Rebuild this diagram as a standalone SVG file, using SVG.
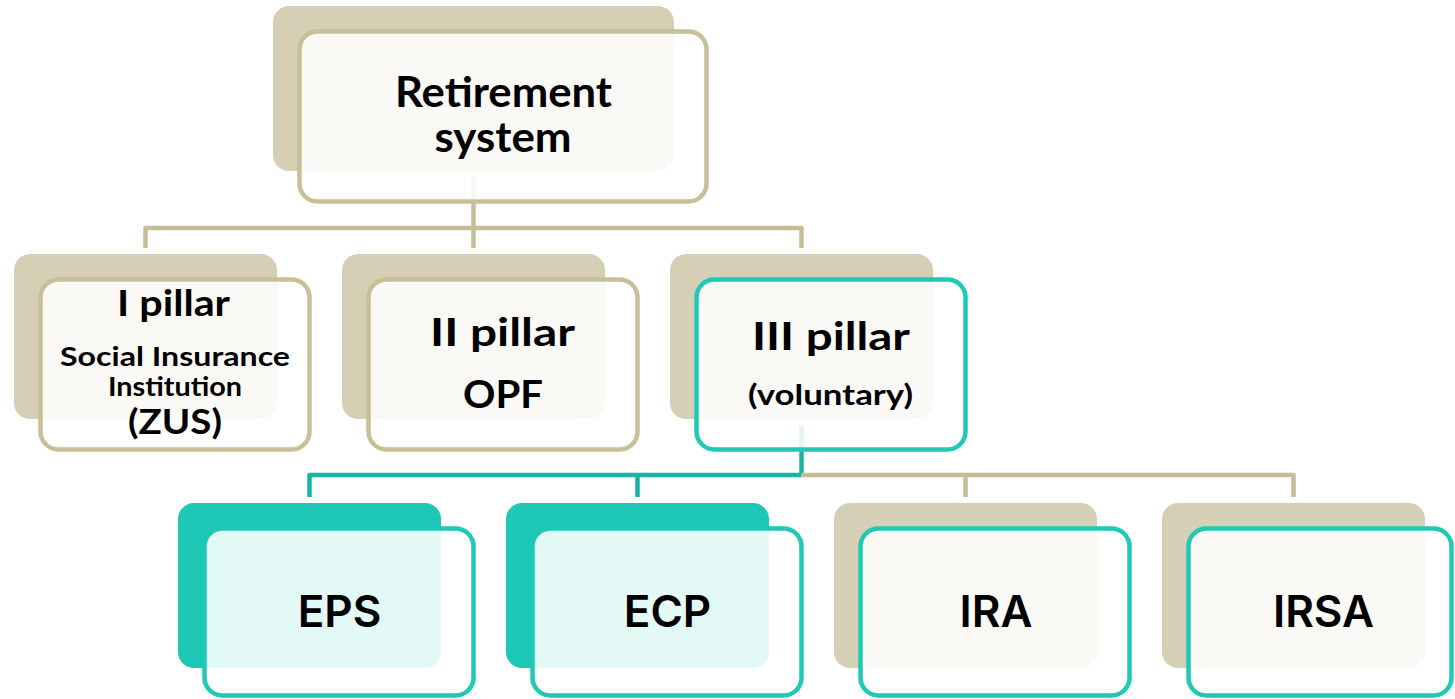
<svg xmlns="http://www.w3.org/2000/svg" width="1455" height="699" viewBox="0 0 1455 699">
<defs>
<style>
.sb{fill:#d5cfb5}
.st{fill:#1dc8b6}
.fb{fill:#ffffff;fill-opacity:0.88;stroke:#c7bf98;stroke-width:4.5}
.ft{fill:#ffffff;fill-opacity:0.88;stroke:#1fc9b6;stroke-width:4.5}
.cb{fill:none;stroke:#c6bd96;stroke-width:4.5;stroke-linejoin:round}
.ct{fill:none;stroke:#18b4a2;stroke-width:4.5;stroke-linejoin:round}
.t{font-family:Lato,"Liberation Sans",sans-serif;font-weight:700;fill:#000;text-anchor:middle}
.s{font-family:Lato,"Liberation Sans",sans-serif;font-weight:700;fill:#000;text-anchor:middle}
.b{font-family:Inter,"Liberation Sans",sans-serif;font-weight:600;fill:#000;text-anchor:middle;font-size:44px}
</style>
</defs>
<g id="connectors">
<path class="cb" d="M473.5 176 V248"/>
<path class="cb" d="M145.5 248 V228 H801.5 V248"/>
<path class="ct" d="M801.5 425 V475"/>
<path class="ct" d="M309.5 497 V475 H801.5"/>
<path class="ct" d="M637.5 475 V497"/>
<path class="cb" d="M801.5 475 H1293.5 V497"/>
<path class="cb" d="M965.5 475 V497"/>
</g>
<g id="node-retirement">
<rect class="sb" x="273" y="6" width="401" height="165" rx="16"/>
<rect class="fb" x="299.5" y="31.5" width="407" height="170" rx="18"/>
<text class="t" x="503.5" y="107" font-size="42" textLength="217" lengthAdjust="spacingAndGlyphs">Retirement</text>
<text class="t" x="503" y="152" font-size="42" textLength="137" lengthAdjust="spacingAndGlyphs">system</text>
</g>
<g id="node-pillar1">
<rect class="sb" x="14" y="254" width="263" height="165" rx="16"/>
<rect class="fb" x="40.5" y="279.5" width="269" height="170" rx="18"/>
<text class="t" x="173.5" y="316" font-size="37" textLength="113" lengthAdjust="spacingAndGlyphs">I pillar</text>
<text class="s" x="175" y="366" font-size="26" textLength="230" lengthAdjust="spacingAndGlyphs">Social Insurance</text>
<text class="s" x="175" y="396" font-size="26" textLength="134" lengthAdjust="spacingAndGlyphs">Institution</text>
<text class="s" x="175" y="434" font-size="35" textLength="94" lengthAdjust="spacingAndGlyphs">(ZUS)</text>
</g>
<g id="node-pillar2">
<rect class="sb" x="342" y="254" width="263" height="165" rx="16"/>
<rect class="fb" x="368.5" y="279.5" width="269" height="170" rx="18"/>
<text class="t" x="502.5" y="346" font-size="39" textLength="145" lengthAdjust="spacingAndGlyphs">II pillar</text>
<text class="t" x="503" y="408" font-size="39" textLength="80" lengthAdjust="spacingAndGlyphs">OPF</text>
</g>
<g id="node-pillar3">
<rect class="sb" x="670" y="254" width="263" height="165" rx="16"/>
<rect class="ft" x="696.5" y="279.5" width="269" height="170" rx="18"/>
<text class="t" x="831" y="350" font-size="39" textLength="158" lengthAdjust="spacingAndGlyphs">III pillar</text>
<text class="s" x="830.5" y="405" font-size="28" textLength="165" lengthAdjust="spacingAndGlyphs">(voluntary)</text>
</g>
<g id="node-eps">
<rect class="st" x="178" y="503" width="263" height="165" rx="16"/>
<rect class="ft" x="204.5" y="528.5" width="269" height="167" rx="18"/>
<text class="b" x="339.5" y="627">EPS</text>
</g>
<g id="node-ecp">
<rect class="st" x="506" y="503" width="263" height="165" rx="16"/>
<rect class="ft" x="532.5" y="528.5" width="269" height="167" rx="18"/>
<text class="b" x="667.5" y="627">ECP</text>
</g>
<g id="node-ira">
<rect class="sb" x="834" y="503" width="263" height="165" rx="16"/>
<rect class="ft" x="860.5" y="528.5" width="269" height="167" rx="18"/>
<text class="b" x="996" y="627">IRA</text>
</g>
<g id="node-irsa">
<rect class="sb" x="1162" y="503" width="263" height="165" rx="16"/>
<rect class="ft" x="1188.5" y="528.5" width="263" height="167" rx="18"/>
<text class="b" x="1323.5" y="627">IRSA</text>
</g>
</svg>
